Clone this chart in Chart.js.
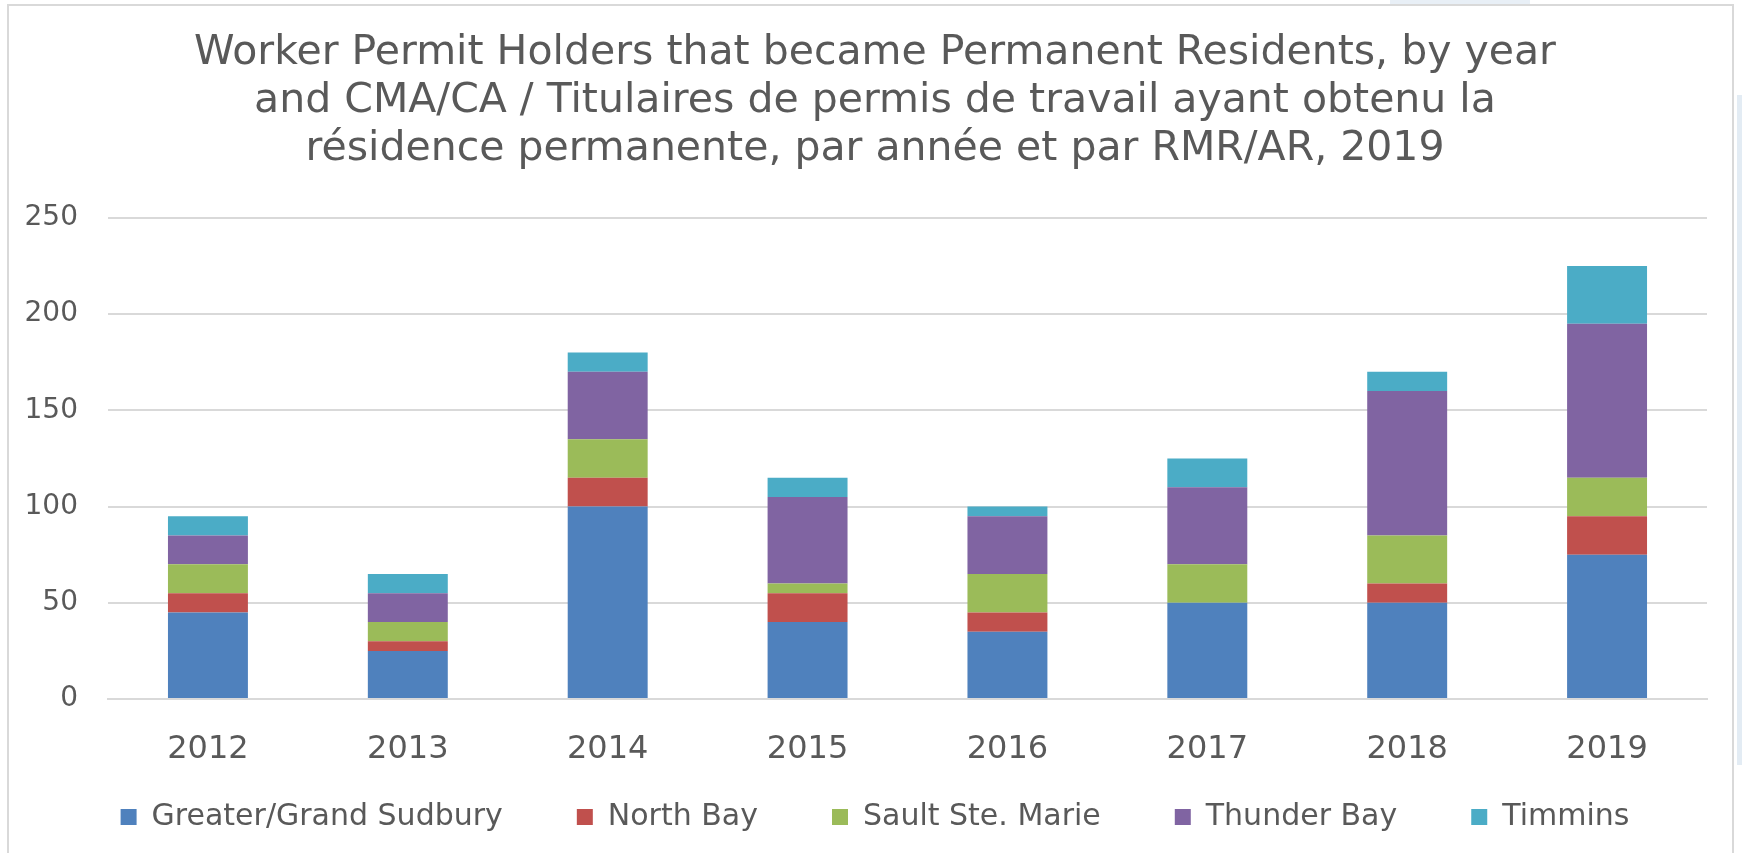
<!DOCTYPE html>
<html>
<head>
<meta charset="utf-8">
<script src="https://cdn.jsdelivr.net/npm/chart.js@4"></script>
<style>
  html, body { margin: 0; padding: 0; background: #ffffff; }
  body { width: 1742px; height: 853px; overflow: hidden; position: relative; }
  #cadre { position: absolute; left: 7px; top: 4px; width: 1727px; height: 900px; border: 2px solid #d9d9d9; box-sizing: border-box; }
  #fond-droite { position: absolute; left: 1737px; top: 95px; width: 5px; height: 670px; background: #e3ecf4; }
  #fond-haut { position: absolute; left: 1390px; top: 0; width: 140px; height: 4px; background: #e8eff6; }
  #zone { position: absolute; left: 0; top: 0; width: 1742px; height: 853px; }
</style>
</head>
<body>
<div id="fond-droite"></div>
<div id="fond-haut"></div>
<div id="cadre"></div>
<div id="zone"><canvas id="graphique"></canvas></div>
<script>
// --- Données ---
const annees = ['2012', '2013', '2014', '2015', '2016', '2017', '2018', '2019'];
const sudbury = [45, 25, 100, 40, 35, 50, 50, 75];
const northBay = [10, 5, 15, 15, 10, 0, 10, 20];
const saultSteMarie = [15, 10, 20, 5, 20, 20, 25, 20];
const thunderBay = [15, 15, 35, 45, 30, 40, 75, 80];
const timmins = [10, 10, 10, 10, 5, 15, 10, 30];
const ticksY = [0, 50, 100, 150, 200, 250];

const titre = [
    'Worker Permit Holders that became Permanent Residents, by year',
    'and CMA/CA / Titulaires de permis de travail ayant obtenu la',
    'résidence permanente, par année et par RMR/AR, 2019'
];

const police = "'DejaVu Sans', sans-serif";
const gris = '#595959';

const series = [
    { label: 'Greater/Grand Sudbury', data: sudbury, color: '#4f81bd' },
    { label: 'North Bay', data: northBay, color: '#c0504d' },
    { label: 'Sault Ste. Marie', data: saultSteMarie, color: '#9bbb59' },
    { label: 'Thunder Bay', data: thunderBay, color: '#8064a2' },
    { label: 'Timmins', data: timmins, color: '#4bacc6' }
];

// Largeur de l'étiquette la plus large de l'axe Y (pour aligner à droite avec mirror)
const mesure = document.createElement('canvas').getContext('2d');
mesure.font = "28px " + police;
const largeurY = Math.max(...ticksY.map(v => mesure.measureText(String(v)).width));

const ctx = document.getElementById('graphique');
new Chart(ctx.getContext('2d'), {
    type: 'bar',
    data: {
        labels: annees,
        datasets: series.map(s => ({
            label: s.label,
            data: s.data,
            backgroundColor: s.color,
            borderWidth: 0,
            barPercentage: 0.4,
            categoryPercentage: 1.0
        }))
    },
    options: {
        responsive: true,
        maintainAspectRatio: false,
        animation: false,
        layout: { padding: { left: 43, right: 35, top: 0, bottom: 11 } },
        plugins: {
            title: {
                display: true,
                text: titre,
                color: gris,
                font: { family: police, size: 41, weight: 'normal', lineHeight: 1.17 },
                padding: { top: 29, bottom: 45 }
            },
            legend: {
                position: 'bottom',
                labels: {
                    color: gris,
                    font: { family: police, size: 30 },
                    boxWidth: 16,
                    boxHeight: 16,
                    padding: 74
                }
            },
            tooltip: { enabled: false }
        },
        scales: {
            x: {
                stacked: true,
                grid: { display: false, drawTicks: false },
                border: { display: true, color: '#d9d9d9', width: 2 },
                // mirror: les étiquettes ne sont pas coupées par la boîte de l'axe (réduite pour la légende)
                ticks: { color: gris, font: { family: police, size: 32 }, mirror: true, padding: -70 },
                afterFit: (scale) => { scale.height = 29; }
            },
            y: {
                stacked: true,
                min: 0,
                max: 250,
                afterBuildTicks: (scale) => { scale.ticks = ticksY.map(v => ({ value: v })); },
                grid: { color: '#d9d9d9', lineWidth: 2, drawTicks: false },
                border: { display: false },
                ticks: {
                    color: gris,
                    font: { family: police, size: 28 },
                    mirror: true,
                    crossAlign: 'far',
                    padding: -(30 + largeurY)
                },
                afterFit: (scale) => { scale.width = 65; }
            }
        }
    }
});
</script>
</body>
</html>
